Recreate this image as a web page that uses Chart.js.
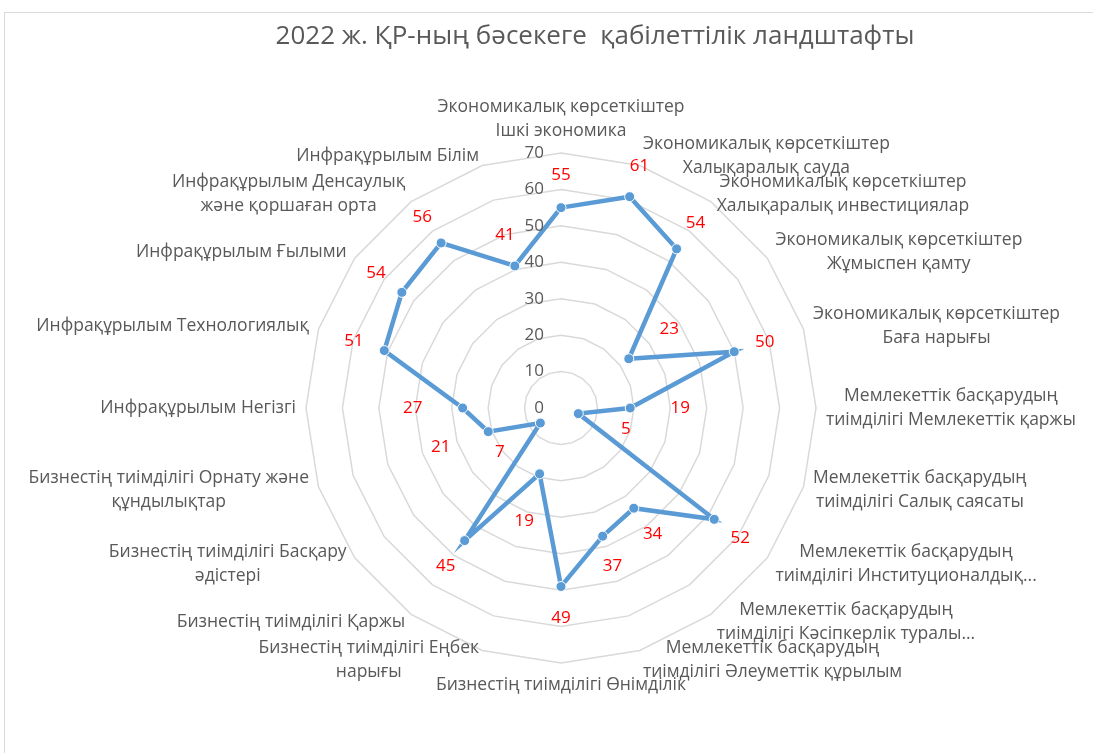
<!DOCTYPE html>
<html>
<head>
<meta charset="utf-8">
<script src="https://cdn.jsdelivr.net/npm/chart.js@4/dist/chart.umd.min.js"></script>
<style>
  html, body { margin: 0; padding: 0; background: #fff; overflow: hidden; }
  #wrap { width: 1093px; height: 753px; position: relative; }
</style>
</head>
<body>
<div id="wrap"><canvas id="radar"></canvas></div>
<script>
const chartTitle = "2022 ж. ҚР-ның бәсекеге  қабілеттілік ландштафты";

const categories = [
    ["Экономикалық көрсеткіштер", "Ішкі экономика"],
    ["Экономикалық көрсеткіштер", "Халықаралық сауда"],
    ["Экономикалық көрсеткіштер", "Халықаралық инвестициялар"],
    ["Экономикалық көрсеткіштер", "Жұмыспен қамту"],
    ["Экономикалық көрсеткіштер", "Баға нарығы"],
    ["Мемлекеттік басқарудың", "тиімділігі Мемлекеттік қаржы"],
    ["Мемлекеттік басқарудың", "тиімділігі Салық саясаты"],
    ["Мемлекеттік басқарудың", "тиімділігі Институционалдық..."],
    ["Мемлекеттік басқарудың", "тиімділігі Кәсіпкерлік туралы..."],
    ["Мемлекеттік басқарудың", "тиімділігі Әлеуметтік құрылым"],
    ["Бизнестің тиімділігі Өнімділік"],
    ["Бизнестің тиімділігі Еңбек", "нарығы"],
    ["Бизнестің тиімділігі Қаржы"],
    ["Бизнестің тиімділігі Басқару", "әдістері"],
    ["Бизнестің тиімділігі Орнату және", "құндылықтар"],
    ["Инфрақұрылым Негізгі"],
    ["Инфрақұрылым Технологиялық"],
    ["Инфрақұрылым Ғылыми"],
    ["Инфрақұрылым Денсаулық", "және қоршаған орта"],
    ["Инфрақұрылым Білім"],
];

const values = [55, 61, 54, 23, 50, 19, 5, 52, 34, 37, 49, 19, 45, 7, 21, 27, 51, 54, 56, 41];

const tickValues = [0, 10, 20, 30, 40, 50, 60, 70];

const FONT = "'Open Sans', 'Noto Sans', sans-serif";
const GREY_TEXT = "#595959";

// frame, title, tick labels, category labels and value labels (Excel-like placement)
const radarText = {
    id: "radarText",
    beforeDraw(chart) {
        const ctx = chart.ctx;
        ctx.save();
        ctx.strokeStyle = "#d9d9d9";
        ctx.lineWidth = 1;
        ctx.strokeRect(4.5, 12.5, 1200, 800);
        ctx.fillStyle = GREY_TEXT;
        ctx.font = "26px " + FONT;
        ctx.textAlign = "center";
        ctx.textBaseline = "middle";
        ctx.fillText(chartTitle, 595, 37);
        ctx.restore();
    },
    afterDatasetsDraw(chart) {
        const ctx = chart.ctx;
        const r = chart.scales.r;
        ctx.save();

        // tick labels, left of the top spoke
        ctx.fillStyle = GREY_TEXT;
        ctx.font = "17px " + FONT;
        ctx.textAlign = "right";
        ctx.textBaseline = "middle";
        tickValues.forEach((t) => {
            const y = r.yCenter - r.getDistanceFromCenterForValue(t);
            ctx.fillText(String(t), r.xCenter - 17, y);
        });

        // category labels
        ctx.font = "17.5px " + FONT;
        const lineH = 24;
        categories.forEach((lines, i) => {
            const deg = Math.round((r.getIndexAngle(i) * 180) / Math.PI) % 360;
            const p = r.getPointPosition(i, r.drawingArea + 10);
            const w = Math.max(...lines.map((l) => ctx.measureText(l).width));
            const h = lines.length * lineH;
            let cx = p.x;
            if (deg > 0 && deg < 180) cx = p.x + w / 2;
            else if (deg > 180) cx = p.x - w / 2;
            let top = p.y - h / 2;
            if (deg === 0) top = p.y - h;
            else if (deg === 180) top = p.y;
            ctx.textAlign = "center";
            lines.forEach((l, k) => ctx.fillText(l, cx, top + lineH * (k + 0.5)));
        });

        // value labels
        ctx.fillStyle = "#ff0000";
        ctx.font = "17px " + FONT;
        values.forEach((v, i) => {
            const d = r.getDistanceFromCenterForValue(v) + (v < 30 ? 50 : 32);
            const p = r.getPointPosition(i, d);
            ctx.fillText(String(v), p.x, p.y);
        });
        ctx.restore();
    },
};

const ctx = document.getElementById("radar").getContext("2d");
new Chart(ctx, {
    type: "radar",
    data: {
        labels: categories,
        datasets: [
            {
                data: values,
                borderColor: "#5b9bd5",
                borderWidth: 4.5,
                fill: false,
                tension: 0,
                pointRadius: 5,
                pointBackgroundColor: "#5b9bd5",
                pointBorderColor: "#ffffff",
                pointBorderWidth: 1,
            },
        ],
    },
    options: {
        responsive: true,
        maintainAspectRatio: false,
        animation: false,
        layout: {
            padding: { top: 153, bottom: 90, left: 40, right: 10 },
        },
        plugins: {
            legend: { display: false },
            title: { display: false },
            tooltip: { enabled: false },
        },
        scales: {
            r: {
                min: 0,
                max: 70,
                ticks: { display: false, stepSize: 10 },
                angleLines: { display: false },
                grid: { color: "#d9d9d9", lineWidth: 1.5 },
                pointLabels: { display: false },
            },
        },
    },
    plugins: [radarText],
});
</script>
</body>
</html>
